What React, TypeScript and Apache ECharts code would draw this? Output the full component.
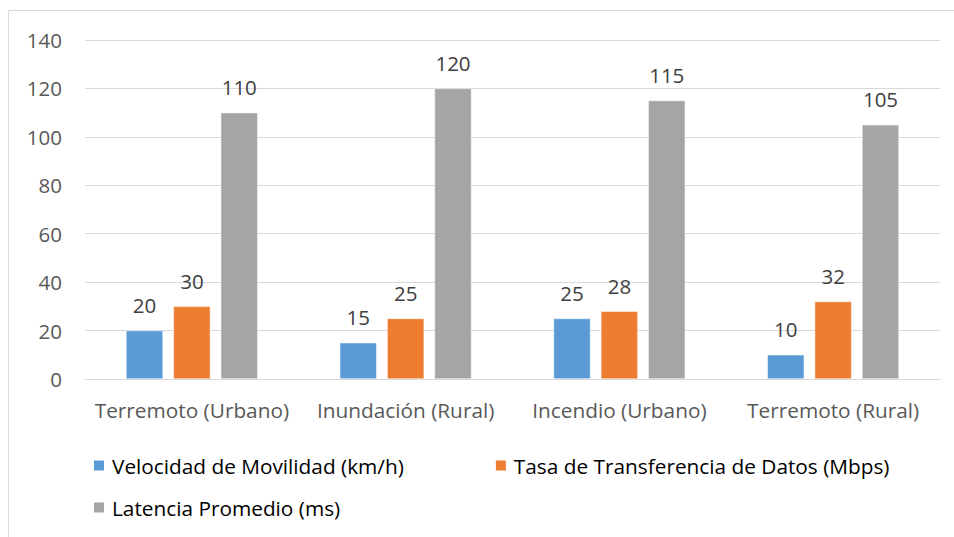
import React, { useEffect, useRef } from "react";
import * as echarts from "echarts";

const categories = ["Terremoto (Urbano)", "Inundación (Rural)", "Incendio (Urbano)", "Terremoto (Rural)"];
const seriesNames = [
  "Velocidad de Movilidad (km/h)",
  "Tasa de Transferencia de Datos (Mbps)",
  "Latencia Promedio (ms)",
];
const velocidad = [20, 15, 25, 10];
const tasa = [30, 25, 28, 32];
const latencia = [110, 120, 115, 105];
const colors = ["#5B9BD5", "#ED7D31", "#A5A5A5"];

const FONT = "'Open Sans', 'Noto Sans', sans-serif";

export default function App() {
  const ref = useRef<HTMLDivElement>(null);
  useEffect(() => {
    if (!ref.current) return;
    const chart = echarts.init(ref.current, null, { renderer: "svg" });
    const values = [velocidad, tasa, latencia];
    chart.setOption({
      animation: false,
      backgroundColor: "#ffffff",
      textStyle: { fontFamily: FONT },
      graphic: [
        {
          type: "rect",
          shape: { x: 8.5, y: 10.5, width: 960, height: 540 },
          style: { fill: "none", stroke: "#D9D9D9", lineWidth: 1 },
          silent: true,
        },
      ],
      grid: { left: 85, right: 14, top: 40, bottom: 158, containLabel: false },
      legend: [
        {
          data: [seriesNames[0], seriesNames[1]],
          left: 87,
          top: 450,
          itemWidth: 12,
          itemHeight: 12,
          itemGap: 90,
          icon: "rect",
          textStyle: { fontFamily: FONT, fontSize: 20.8, color: "#000000", padding: [0, 0, 0, 2] },
        },
        {
          data: [seriesNames[2]],
          left: 87,
          top: 492,
          itemWidth: 12,
          itemHeight: 12,
          icon: "rect",
          textStyle: { fontFamily: FONT, fontSize: 20.8, color: "#000000", padding: [0, 0, 0, 2] },
        },
      ],
      xAxis: {
        type: "category",
        data: categories,
        axisLine: { show: true, lineStyle: { color: "#D9D9D9", width: 1 } },
        axisTick: { show: false },
        axisLabel: { fontFamily: FONT, fontSize: 20.8, color: "#595959", margin: 20, interval: 0 },
      },
      yAxis: {
        type: "value",
        min: 0,
        max: 140,
        interval: 20,
        axisLine: { show: false },
        axisTick: { show: false },
        splitLine: { lineStyle: { color: "#D9D9D9", width: 1 } },
        axisLabel: { fontFamily: FONT, fontSize: 20.5, color: "#595959", margin: 23 },
      },
      series: seriesNames.map((name, i) => ({
        name,
        type: "bar",
        data: values[i],
        barWidth: 37,
        barGap: "28%",
        itemStyle: { color: colors[i], borderColor: "#ffffff", borderWidth: 0.5 },
        label: {
          show: true,
          position: "top",
          distance: 15,
          fontFamily: FONT,
          fontSize: 20.5,
          color: "#404040",
        },
      })),
    });
    return () => chart.dispose();
  }, []);
  return (
    <div
      ref={ref}
      style={{ position: "fixed", left: 0, top: 0, width: 954, height: 537 }}
    />
  );
}
